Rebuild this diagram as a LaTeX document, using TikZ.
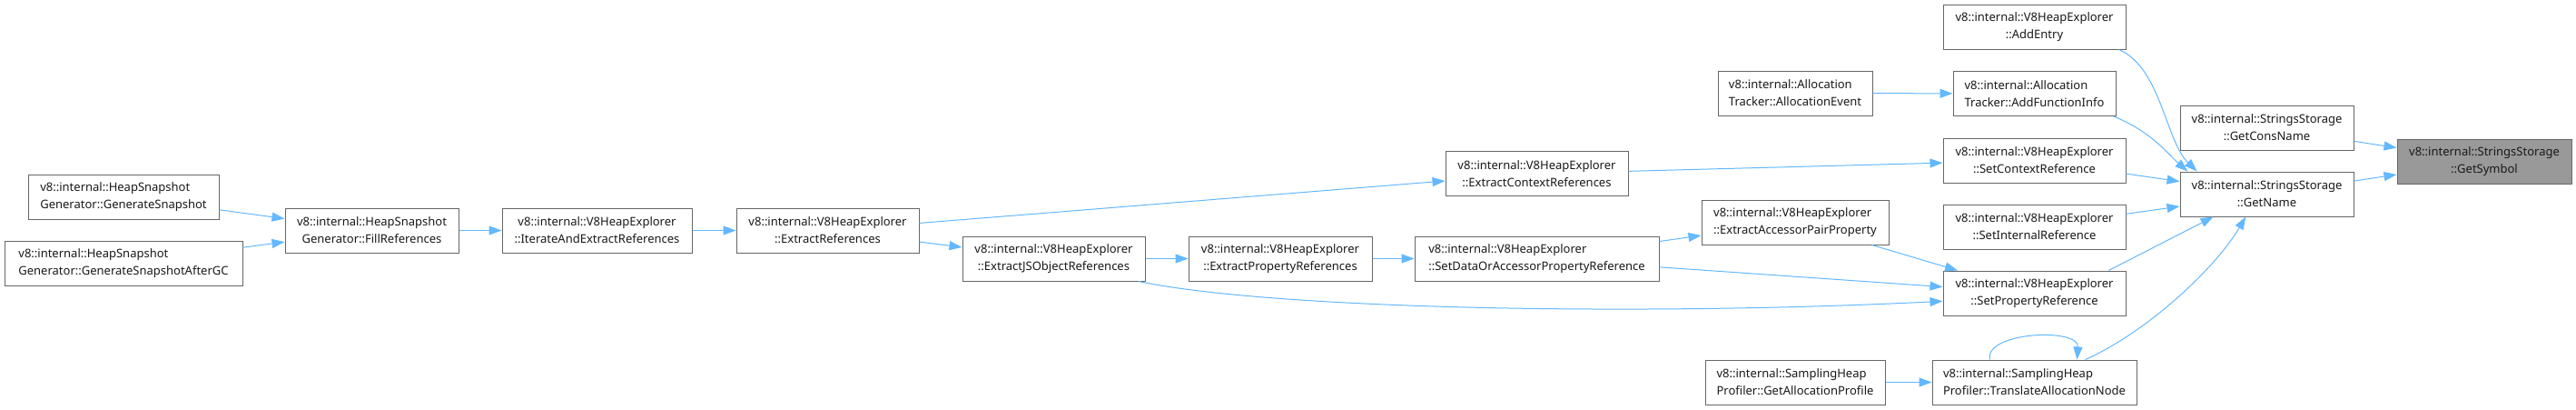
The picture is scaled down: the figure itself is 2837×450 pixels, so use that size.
\documentclass[tikz,border=0pt]{standalone}
\usepackage{fontspec}
\setmainfont{Noto Sans}
\usepackage{xcolor}
\usetikzlibrary{arrows.meta,positioning}

\definecolor{edgeblue}{HTML}{63B8FF}
\definecolor{boxgray}{HTML}{666666}
\definecolor{selfgray}{HTML}{999999}

\begin{document}
\begin{tikzpicture}[
  x=1pt, y=-1pt,
  fn/.style={rectangle, draw=boxgray, fill=white, line width=1pt,
             minimum width=#1, minimum height=49, inner sep=0pt,
             align=center, text=black!90,
             font=\fontsize{13}{19}\selectfont},
  fnl/.style={fn=#1, align=left},
  target/.style={fn=#1, fill=selfgray},
  arrow/.style={-{Triangle[length=14pt,width=10pt]}, line width=1pt, edgeblue}
]
\useasboundingbox (0,0) rectangle (2837,450);

% Snapshot generator
\node[fnl=210] (gensnap)   at (136,216.5) {v8::internal::HeapSnapshot\\Generator::GenerateSnapshot};
\node[fnl=262] (gensnapgc) at (136,289.5) {v8::internal::HeapSnapshot\\Generator::GenerateSnapshotAfterGC};
\node[fn=191]  (fillrefs)  at (409.5,253.5) {v8::internal::HeapSnapshot\\Generator::FillReferences};

% Heap explorer chain
\node[fn=209]  (iterrefs)    at (657.5,253.5) {v8::internal::V8HeapExplorer\\::IterateAndExtractReferences};
\node[fn=201]  (extractrefs) at (911.5,253.5) {v8::internal::V8HeapExplorer\\::ExtractReferences};
\node[fn=201]  (extractjs)   at (1160.5,284.5) {v8::internal::V8HeapExplorer\\::ExtractJSObjectReferences};
\node[fn=202]  (extractprop) at (1410,284.5) {v8::internal::V8HeapExplorer\\::ExtractPropertyReferences};
\node[fn=201]  (extractctx)  at (1692.5,191) {v8::internal::V8HeapExplorer\\::ExtractContextReferences};
\node[fnl=269] (setdata)     at (1692.5,284.5) {v8::internal::V8HeapExplorer\\::SetDataOrAccessorPropertyReference};
\node[fnl=206] (accessor)    at (1977,244.5) {v8::internal::V8HeapExplorer\\::ExtractAccessorPairProperty};

% Allocation tracker and sampling profiler
\node[fnl=170] (allocevent)  at (1977,102.5) {v8::internal::Allocation\\Tracker::AllocationEvent};
\node[fnl=198] (getprofile)  at (1977,420.5) {v8::internal::SamplingHeap\\Profiler::GetAllocationProfile};

% Direct callers of GetName
\node[fn=201]  (addentry)    at (2240.5,29.5) {v8::internal::V8HeapExplorer\\::AddEntry};
\node[fnl=179] (addfuncinfo) at (2240.5,103) {v8::internal::Allocation\\Tracker::AddFunctionInfo};
\node[fn=201]  (setctx)      at (2240.5,176.5) {v8::internal::V8HeapExplorer\\::SetContextReference};
\node[fn=201]  (setinternal) at (2240.5,249.5) {v8::internal::V8HeapExplorer\\::SetInternalReference};
\node[fn=201]  (setprop)     at (2240.5,322.5) {v8::internal::V8HeapExplorer\\::SetPropertyReference};
\node[fnl=225] (translate)   at (2240.5,420.5) {v8::internal::SamplingHeap\\Profiler::TranslateAllocationNode};

% Strings storage
\node[fn=191]     (getcons)   at (2496.5,140.5) {v8::internal::StringsStorage\\::GetConsName};
\node[fn=191]     (getname)   at (2496.5,213.5) {v8::internal::StringsStorage\\::GetName};
\node[target=192] (getsymbol) at (2736,177.5) {v8::internal::StringsStorage\\::GetSymbol};

% Edges
\draw[arrow] (gensnap) -- (fillrefs);
\draw[arrow] (gensnapgc) -- (fillrefs);
\draw[arrow] (fillrefs) -- (iterrefs);
\draw[arrow] (iterrefs) -- (extractrefs);
\draw[arrow] (extractrefs) -- (extractctx);
\draw[arrow] (extractrefs) -- (extractjs);
\draw[arrow] (extractjs) -- (extractprop);
\draw[arrow] (extractprop) -- (setdata);
\draw[arrow] (setdata) -- (accessor);
\draw[arrow] (setdata) -- (setprop);
\draw[arrow] (accessor) -- (setprop);
\draw[arrow] (extractjs.-15) .. controls (1400,340) and (1800,348) .. (setprop.-175);
\draw[arrow] (extractctx) -- (setctx);
\draw[arrow] (allocevent) -- (addfuncinfo);
\draw[arrow] (getprofile) -- (translate);
\draw[arrow] (translate.153) .. controls (2185,365) and (2290,360) .. (translate.28);

% Into GetName
\draw[arrow] (addentry.-15) .. controls (2380,75) and (2385,155) .. (getname.162);
\draw[arrow] (addfuncinfo.-16) .. controls (2370,145) and (2388,170) .. (getname.164);
\draw[arrow] (setctx) -- (getname);
\draw[arrow] (setinternal) -- (getname);
\draw[arrow] (setprop.17) -- (getname.-157);
\draw[arrow] (translate.24) .. controls (2365,365) and (2440,295) .. (getname.-133);

% Into GetSymbol
\draw[arrow] (getcons) -- (getsymbol);
\draw[arrow] (getname) -- (getsymbol);

\end{tikzpicture}
\end{document}
